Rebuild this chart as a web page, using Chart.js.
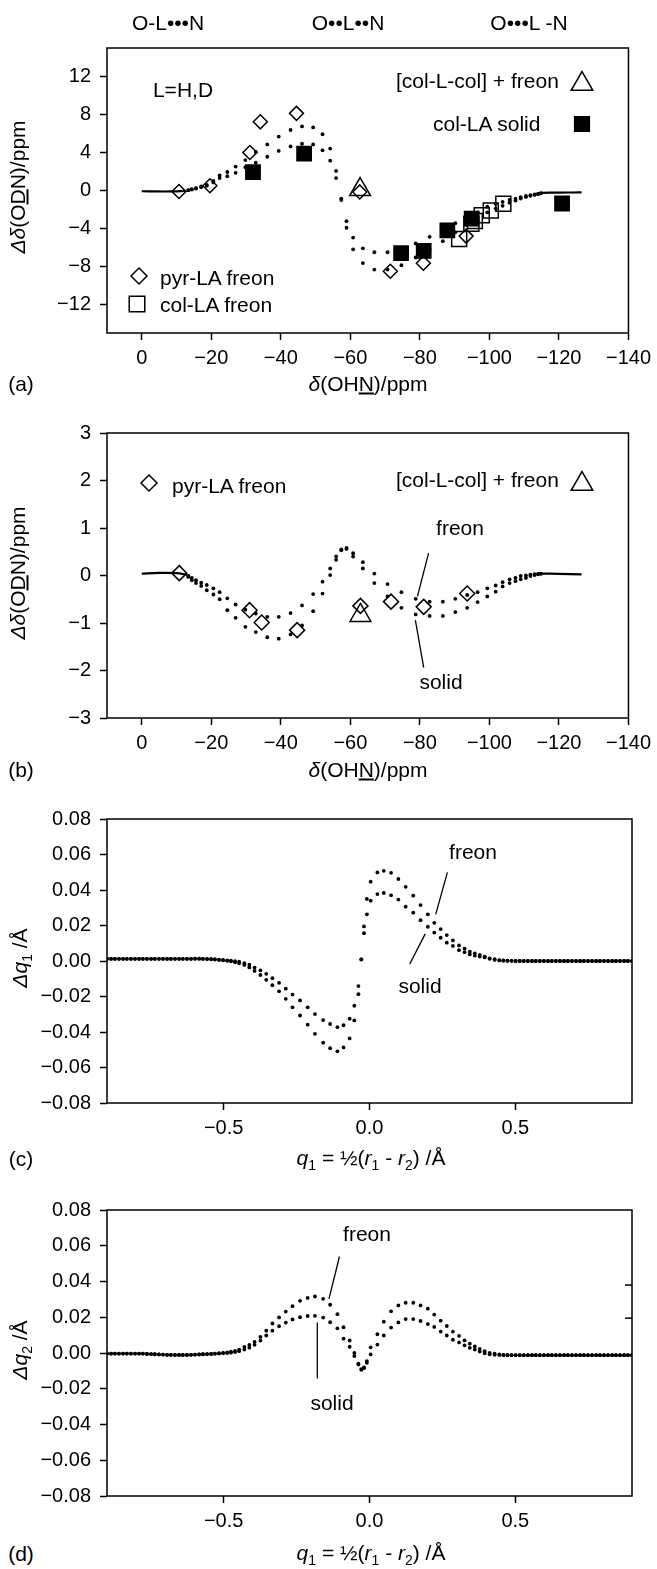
<!DOCTYPE html>
<html>
<head>
<meta charset="utf-8">
<script src="https://cdn.jsdelivr.net/npm/chart.js@4.4.1/dist/chart.umd.min.js"></script>
<style>
  body { margin: 0; background: #fff; width: 657px; height: 1569px; position: relative; overflow: hidden;
         font-family: "Liberation Sans", Arial, Helvetica, sans-serif; color: #000; }
  canvas { position: absolute; left: 0; }
  .t { position: absolute; white-space: nowrap; font-size: 21px; line-height: 1; transform: translate(-50%, -50%); }
  .l { transform: translate(0, -50%); }
  .r { transform: translate(-50%, -50%) rotate(-90deg); }
  .sb { font-size: 14px; position: relative; top: 5px; }
</style>
</head>
<body>
<canvas id="ca" width="657" height="351" style="top:27px"></canvas>
<canvas id="cb" width="657" height="351" style="top:412px"></canvas>
<canvas id="cc" width="657" height="350" style="top:798px"></canvas>
<canvas id="cd" width="657" height="352" style="top:1189px"></canvas>

<div class="t" style="left:168px;top:22px">O-L•••N</div>
<div class="t" style="left:348px;top:22px">O••L••N</div>
<div class="t" style="left:529px;top:22px">O•••L -N</div>

<div class="t" style="left:183px;top:89px">L=H,D</div>
<div class="t l" style="left:396px;top:80px">[col-L-col] + freon</div>
<div class="t l" style="left:433px;top:123px">col-LA solid</div>
<div class="t l" style="left:160px;top:277px">pyr-LA freon</div>
<div class="t l" style="left:160px;top:304px">col-LA freon</div>
<div class="t" style="left:21px;top:383px">(a)</div>
<div class="t" style="left:368px;top:383px"><i>δ</i>(OH<u>N</u>)/ppm</div>
<div class="t r" style="left:17px;top:187px"><i>Δδ</i>(O<u>D</u>N)/ppm</div>

<div class="t l" style="left:172px;top:485px">pyr-LA freon</div>
<div class="t l" style="left:396px;top:479px">[col-L-col] + freon</div>
<div class="t" style="left:460px;top:527px">freon</div>
<div class="t" style="left:441px;top:681px">solid</div>
<div class="t" style="left:21px;top:769px">(b)</div>
<div class="t" style="left:368px;top:769px"><i>δ</i>(OH<u>N</u>)/ppm</div>
<div class="t r" style="left:17px;top:573px"><i>Δδ</i>(O<u>D</u>N)/ppm</div>

<div class="t" style="left:473px;top:851px">freon</div>
<div class="t" style="left:420px;top:985px">solid</div>
<div class="t" style="left:21px;top:1158px">(c)</div>
<div class="t" style="left:371px;top:1157px"><i>q</i><span class="sb">1</span> = ½(<i>r</i><span class="sb">1</span> - <i>r</i><span class="sb">2</span>) /Å</div>
<div class="t r" style="left:19px;top:958px"><i>Δq</i><span class="sb">1</span> /Å</div>

<div class="t" style="left:367px;top:1233px">freon</div>
<div class="t" style="left:332px;top:1402px">solid</div>
<div class="t" style="left:21px;top:1553px">(d)</div>
<div class="t" style="left:371px;top:1552px"><i>q</i><span class="sb">1</span> = ½(<i>r</i><span class="sb">1</span> - <i>r</i><span class="sb">2</span>) /Å</div>
<div class="t r" style="left:19px;top:1350px"><i>Δq</i><span class="sb">2</span> /Å</div>

<script>
// tick labels
const ppmTicks = [0, -20, -40, -60, -80, -100, -120, -140];
const odnTicksA = [-12, -8, -4, 0, 4, 8, 12];
const odnTicksB = [-3, -2, -1, 0, 1, 2, 3];
const qTicks = [-0.5, 0, 0.5];
const dqTicks = [-0.08, -0.06, -0.04, -0.02, 0, 0.02, 0.04, 0.06, 0.08];

// δ(OHN) of the computed points, shared by panels a and b
const ohnShift = [
  -13.4, -14.4, -15.6, -17.1, -18.7, -20.6, -22.4, -24.6, -27.0, -29.8,
  -32.8, -36.1, -39.4, -42.8, -46.1, -49.3, -52.0, -54.2, -55.9, -57.4,
  -58.9, -60.8, -63.6, -66.9, -70.7, -74.7, -78.8, -82.8, -86.6, -90.2,
  -93.6, -96.6, -99.4, -101.8, -103.8, -105.8, -107.5, -109.0, -110.5, -111.8,
  -113.0, -114.0, -114.8];

// panel a
const odnFreonA = [
  0.05, 0.14, 0.25, 0.42, 0.6, 1.0, 1.59, 1.95, 2.52, 3.2,
  4.06, 4.85, 5.68, 6.37, 6.75, 6.64, 5.92, 4.41, 2.06, -1.0,
  -3.92, -6.19, -7.64, -8.32, -8.32, -7.87, -7.05, -6.2, -5.33, -4.4,
  -3.6, -2.9, -2.3, -1.9, -1.61, -1.3, -1.05, -0.85, -0.68, -0.55,
  -0.45, -0.37, -0.3];
const odnSolidA = [
  0.03, 0.10, 0.2, 0.35, 0.5, 0.85, 1.31, 1.5, 1.86, 2.45,
  2.93, 3.55, 4.17, 4.64, 4.92, 4.85, 4.23, 3.14, 1.31, -0.85,
  -3.23, -4.95, -6.09, -6.5, -6.5, -6.4, -5.57, -4.88, -4.1, -3.44,
  -2.8, -2.3, -1.71, -1.4, -1.2, -1.0, -0.86, -0.7, -0.58, -0.5,
  -0.42, -0.35, -0.29];
const tailLeftXA = [0, -4, -8, -12.5];
const tailLeftYA = [-0.08, -0.1, -0.1, -0.04];
const tailRightXA = [-115, -120, -126.5];
const tailRightYA = [-0.25, -0.22, -0.2];

const pyrXA = [-10.7, -19.6, -31.1, -34.1, -44.5, -62.7, -71.5, -81.0, -93.3];
const pyrYA = [-0.1, 0.5, 4.0, 7.23, 8.12, -0.15, -8.5, -7.65, -4.8];
const colFreonX = [-91.3, -94.8, -95.8, -97.8, -100.4, -104.0];
const colFreonY = [-5.1, -3.5, -3.2, -2.6, -2.1, -1.4];
const colSolidX = [-32.0, -46.7, -74.6, -81.1, -87.9, -94.9, -120.9];
const colSolidY = [1.93, 3.88, -6.6, -6.36, -4.19, -2.95, -1.37];
const triXA = [-62.8];
const triYA = [0.1];

// panel b
const odnFreonB = [
  -0.01, -0.05, -0.10, -0.15, -0.20, -0.27, -0.35, -0.48, -0.61, -0.72,
  -0.80, -0.87, -0.87, -0.79, -0.63, -0.39, -0.13, 0.15, 0.40, 0.55,
  0.58, 0.47, 0.28, 0.04, -0.18, -0.35, -0.49, -0.55, -0.55, -0.49,
  -0.41, -0.35, -0.27, -0.21, -0.14, -0.08, -0.05, -0.01, 0.0, 0.02,
  0.03, 0.035, 0.04];
const odnSolidB = [
  -0.03, -0.10, -0.16, -0.22, -0.31, -0.40, -0.50, -0.73, -0.89, -1.08,
  -1.19, -1.30, -1.33, -1.24, -1.05, -0.75, -0.38, 0.01, 0.33, 0.53,
  0.56, 0.40, 0.15, -0.16, -0.44, -0.68, -0.82, -0.85, -0.85, -0.77,
  -0.68, -0.56, -0.44, -0.34, -0.23, -0.16, -0.12, -0.08, -0.05, -0.01,
  0.01, 0.025, 0.035];
const tailLeftXB = [0, -5, -10, -13];
const tailLeftYB = [0.04, 0.055, 0.05, 0.02];
const tailRightXB = [-115, -120, -126.5];
const tailRightYB = [0.04, 0.035, 0.025];

const pyrXB = [-10.8, -31.0, -34.5, -44.7, -62.9, -71.7, -81.1, -93.6];
const pyrYB = [0.05, -0.73, -0.99, -1.15, -0.64, -0.55, -0.66, -0.38];
const triXB = [-62.9];
const triYB = [-0.84];

// panels c and d: q1 grid
const q1 = [
  -0.900, -0.886, -0.873, -0.859, -0.845, -0.832, -0.818, -0.804, -0.790, -0.777,
  -0.763, -0.749, -0.736, -0.722, -0.708, -0.694, -0.681, -0.667, -0.653, -0.640,
  -0.626, -0.612, -0.598, -0.584, -0.571, -0.557, -0.543, -0.530, -0.516, -0.502,
  -0.488, -0.475, -0.461, -0.447, -0.429, -0.412, -0.394, -0.374, -0.354, -0.333,
  -0.310, -0.287, -0.264, -0.238, -0.212, -0.187, -0.159, -0.135, -0.110, -0.089,
  -0.068, -0.052, -0.038, -0.028, -0.019, -0.009, 0.004, 0.027, 0.049, 0.074,
  0.099, 0.124, 0.150, 0.175, 0.200, 0.222, 0.244, 0.265, 0.286, 0.307,
  0.326, 0.344, 0.361, 0.378, 0.395, 0.412, 0.429, 0.445, 0.459, 0.473,
  0.487, 0.501, 0.515, 0.529, 0.543, 0.557, 0.570, 0.584, 0.598, 0.612,
  0.625, 0.639, 0.653, 0.667, 0.680, 0.694, 0.708, 0.722, 0.735, 0.749,
  0.763, 0.777, 0.790, 0.804, 0.818, 0.832, 0.845, 0.859, 0.873, 0.886,
  0.900];

const dq1Freon = [
  0.0012, 0.0012, 0.0012, 0.0012, 0.0012, 0.0012, 0.0012, 0.0012, 0.0012, 0.0012,
  0.0012, 0.0012, 0.0012, 0.0012, 0.0012, 0.0012, 0.0012, 0.0012, 0.0012, 0.0012,
  0.0012, 0.0012, 0.0013, 0.0013, 0.0012, 0.0011, 0.0010, 0.0008, 0.0006, 0.0004,
  0.0001, -0.0002, -0.0007, -0.0013, -0.0022, -0.0036, -0.0056, -0.0079, -0.0106, -0.0136,
  -0.0171, -0.0213, -0.0261, -0.0307, -0.0359, -0.0410, -0.0460, -0.0491, -0.0509, -0.0487,
  -0.0436, -0.0335, -0.0187, 0.0009, 0.0195, 0.0350, 0.0447, 0.0499, 0.0508, 0.0497,
  0.0462, 0.0418, 0.0368, 0.0315, 0.0263, 0.0215, 0.0180, 0.0146, 0.0116, 0.0088,
  0.0070, 0.0052, 0.0043, 0.0034, 0.0025, 0.0015, 0.0010, 0.0005, 0.0003, 0.0002,
  0.0001, 0, 0, 0, 0, 0, 0, 0, 0, 0,
  0, 0, 0, 0, 0, 0, 0, 0, 0, 0,
  0, 0, 0, 0, 0, 0, 0, 0, 0, 0,
  0];
const dq1Solid = [
  0.0012, 0.0012, 0.0012, 0.0012, 0.0012, 0.0012, 0.0012, 0.0012, 0.0012, 0.0012,
  0.0012, 0.0012, 0.0012, 0.0012, 0.0012, 0.0012, 0.0012, 0.0012, 0.0012, 0.0012,
  0.0012, 0.0012, 0.0013, 0.0013, 0.0012, 0.0012, 0.0011, 0.0010, 0.0008, 0.0006,
  0.0004, 0.0002, -0.0001, -0.0004, -0.0012, -0.0021, -0.0037, -0.0053, -0.0072, -0.0097,
  -0.0123, -0.0156, -0.0189, -0.0222, -0.0261, -0.0299, -0.0333, -0.0355, -0.0373, -0.0362,
  -0.0325, -0.0252, -0.0141, 0.0009, 0.0157, 0.0263, 0.0340, 0.0377, 0.0383, 0.0370,
  0.0346, 0.0306, 0.0272, 0.0230, 0.0193, 0.0160, 0.0131, 0.0103, 0.0085, 0.0061,
  0.0050, 0.0037, 0.0030, 0.0025, 0.0020, 0.0012, 0.0006, 0.0003, 0.0002, 0.0001,
  0.0001, 0, 0, 0, 0, 0, 0, 0, 0, 0,
  0, 0, 0, 0, 0, 0, 0, 0, 0, 0,
  0, 0, 0, 0, 0, 0, 0, 0, 0, 0,
  0];

const dq2Freon = [
  -0.0003, -0.0003, -0.0003, -0.0003, -0.0003, -0.0003, -0.0003, -0.0003, -0.0003, -0.0003,
  -0.0005, -0.0006, -0.0007, -0.0008, -0.0009, -0.0010, -0.0010, -0.0011, -0.0011, -0.0011,
  -0.0011, -0.0010, -0.0009, -0.0008, -0.0007, -0.0006, -0.0005, -0.0003, -0.0001, 0.0001,
  0.0003, 0.0007, 0.0012, 0.0019, 0.0034, 0.0045, 0.0062, 0.0090, 0.0125, 0.0165,
  0.0199, 0.0232, 0.0262, 0.0292, 0.0308, 0.0316, 0.0303, 0.0270, 0.0217, 0.0144,
  0.0070, 0.0000, -0.0060, -0.0094, -0.0085, -0.0045, 0.0032, 0.0105, 0.0175, 0.0233,
  0.0266, 0.0281, 0.0281, 0.0266, 0.0248, 0.0215, 0.0181, 0.0151, 0.0120, 0.0096,
  0.0071, 0.0052, 0.0037, 0.0023, 0.0010, 0.0001, -0.0004, -0.0008, -0.0010, -0.0011,
  -0.0012, -0.0012, -0.0012, -0.0012, -0.0012, -0.0012, -0.0012, -0.0012, -0.0012, -0.0012,
  -0.0012, -0.0012, -0.0012, -0.0012, -0.0012, -0.0012, -0.0012, -0.0012, -0.0012, -0.0012,
  -0.0012, -0.0012, -0.0012, -0.0012, -0.0012, -0.0012, -0.0012, -0.0012, -0.0012, -0.0012,
  -0.0012];
const dq2Solid = [
  -0.0003, -0.0003, -0.0003, -0.0003, -0.0003, -0.0003, -0.0003, -0.0003, -0.0003, -0.0003,
  -0.0005, -0.0006, -0.0007, -0.0008, -0.0009, -0.0010, -0.0010, -0.0011, -0.0011, -0.0011,
  -0.0011, -0.0010, -0.0009, -0.0008, -0.0007, -0.0006, -0.0005, -0.0004, -0.0003, -0.0001,
  0.0000, 0.0002, 0.0005, 0.0010, 0.0019, 0.0030, 0.0046, 0.0070, 0.0098, 0.0125,
  0.0150, 0.0170, 0.0188, 0.0200, 0.0207, 0.0208, 0.0198, 0.0172, 0.0138, 0.0080,
  0.0035, -0.0017, -0.0065, -0.0090, -0.0080, -0.0055, -0.0008, 0.0047, 0.0098, 0.0142,
  0.0171, 0.0190, 0.0190, 0.0179, 0.0162, 0.0146, 0.0120, 0.0098, 0.0074, 0.0059,
  0.0043, 0.0029, 0.0019, 0.0008, -0.0002, -0.0007, -0.0010, -0.0011, -0.0012, -0.0012,
  -0.0012, -0.0012, -0.0012, -0.0012, -0.0012, -0.0012, -0.0012, -0.0012, -0.0012, -0.0012,
  -0.0012, -0.0012, -0.0012, -0.0012, -0.0012, -0.0012, -0.0012, -0.0012, -0.0012, -0.0012,
  -0.0012, -0.0012, -0.0012, -0.0012, -0.0012, -0.0012, -0.0012, -0.0012, -0.0012, -0.0012,
  -0.0012];

Chart.defaults.font.family = '"Liberation Sans", Arial, Helvetica, sans-serif';
Chart.defaults.font.size = 20;
Chart.defaults.color = '#000';

const pts = (xs, ys) => xs.map((x, i) => ({x, y: ys[i]}));

function dots(xs, ys) {
  return {data: pts(xs, ys), pointRadius: 1.9, pointBackgroundColor: '#000', pointBorderWidth: 0, showLine: false};
}
function tail(xs, ys) {
  return {data: pts(xs, ys), showLine: true, pointRadius: 0, borderColor: '#000', borderWidth: 2.2, tension: 0.3, fill: false};
}
function marks(xs, ys, style, r, filled) {
  return {data: pts(xs, ys), pointStyle: style, pointRadius: r, pointBorderWidth: 1.5,
    pointBorderColor: '#000', pointBackgroundColor: filled ? '#000' : 'rgba(0,0,0,0)', showLine: false};
}

const minus = s => s.replace('-', '\u2212');
const fmtInt = v => minus(String(v));
const fmt1 = v => minus(v.toFixed(1));
const fmt2 = v => minus(v.toFixed(2));

function axis(min, max, ticks, fmt, isX, reverse) {
  return {
    type: 'linear', position: isX ? 'bottom' : 'left', min, max, reverse: !!reverse,
    afterBuildTicks: s => { s.ticks = ticks.map(v => ({value: v})); },
    afterFit: s => { if (isX) s.height = 45; else s.width = 107; },
    ticks: {callback: fmt, autoSkip: false, maxRotation: 0, padding: isX ? 6 : 9, color: '#000', font: {size: 20}},
    grid: {drawOnChartArea: false, drawTicks: true, tickLength: 7, tickWidth: 1.5, color: '#000'},
    border: {display: false}
  };
}

// annotations per canvas: leader lines (data units), legend keys (page px), extra right ticks
const notes = {
  ca: {keys: [
    {style: 'triangle', x: 582, y: 84, r: 12.5},
    {style: 'rect', x: 582, y: 124, r: 10.4, fill: true},
    {style: 'rectRot', x: 139, y: 276, r: 8},
    {style: 'rect', x: 137, y: 304, r: 11}]},
  cb: {keys: [
    {style: 'triangle', x: 582, y: 484, r: 12.5},
    {style: 'rectRot', x: 149, y: 483, r: 8}],
    leaders: [[-82.5, 0.47, -79.3, -0.44], [-81.1, -1.94, -78.7, -0.94]]},
  cc: {leaders: [[0.267, 0.0499, 0.227, 0.0263], [0.138, -0.0017, 0.191, 0.0153]]},
  cd: {leaders: [[-0.103, 0.054, -0.139, 0.0303], [-0.179, 0.0170, -0.179, -0.0142]],
    rightTicks: [0.038, 0.0195]}
};

function drawKey(ctx, k, top) {
  const x = k.x, y = k.y - top, r = k.r;
  ctx.beginPath();
  if (k.style === 'triangle') {
    const h = r * Math.sin(Math.PI / 3);
    ctx.moveTo(x, y - r);
    ctx.lineTo(x + h, y + r / 2);
    ctx.lineTo(x - h, y + r / 2);
    ctx.closePath();
  } else if (k.style === 'rect') {
    const s = r * Math.SQRT1_2;
    ctx.rect(x - s, y - s, 2 * s, 2 * s);
  } else {
    ctx.moveTo(x - r, y);
    ctx.lineTo(x, y - r);
    ctx.lineTo(x + r, y);
    ctx.lineTo(x, y + r);
    ctx.closePath();
  }
  if (k.fill) { ctx.fillStyle = '#000'; ctx.fill(); }
  ctx.lineWidth = 1.5;
  ctx.strokeStyle = '#000';
  ctx.stroke();
}

const framePlugin = {
  id: 'frame',
  afterDatasetsDraw(chart) {
    const {ctx, chartArea: a, scales: {x, y}} = chart;
    const n = notes[chart.canvas.id] || {};
    ctx.save();
    ctx.strokeStyle = '#000';
    ctx.lineWidth = 1.5;
    ctx.strokeRect(a.left, a.top, a.right - a.left, a.bottom - a.top);
    (n.rightTicks || []).forEach(v => {
      const py = y.getPixelForValue(v);
      ctx.beginPath();
      ctx.moveTo(a.right - 7, py);
      ctx.lineTo(a.right, py);
      ctx.stroke();
    });
    ctx.lineWidth = 1.3;
    (n.leaders || []).forEach(([x1, y1, x2, y2]) => {
      ctx.beginPath();
      ctx.moveTo(x.getPixelForValue(x1), y.getPixelForValue(y1));
      ctx.lineTo(x.getPixelForValue(x2), y.getPixelForValue(y2));
      ctx.stroke();
    });
    (n.keys || []).forEach(k => drawKey(ctx, k, chart.canvas.offsetTop));
    ctx.restore();
  }
};

function makeChart(id, datasets, scales) {
  return new Chart(document.getElementById(id), {
    type: 'scatter',
    data: {datasets},
    options: {
      responsive: false,
      animation: false,
      events: [],
      layout: {padding: {top: 15, right: 25, left: 0, bottom: 0}},
      plugins: {legend: {display: false}, tooltip: {enabled: false}},
      scales
    },
    plugins: [framePlugin]
  });
}

makeChart('ca', [
  marks(colSolidX, colSolidY, 'rect', 10.1, true),
  marks(triXA, triYA, 'triangle', 12, false),
  marks(pyrXA, pyrYA, 'rectRot', 7, false),
  marks(colFreonX, colFreonY, 'rect', 10.6, false),
  dots(ohnShift, odnFreonA),
  dots(ohnShift, odnSolidA),
  tail(tailLeftXA, tailLeftYA),
  tail(tailRightXA, tailRightYA)
], {
  x: axis(-140, 10, ppmTicks, fmtInt, true, true),
  y: axis(-15, 15, odnTicksA, fmtInt, false)
});

makeChart('cb', [
  marks(triXB, triYB, 'triangle', 12, false),
  marks(pyrXB, pyrYB, 'rectRot', 7.5, false),
  dots(ohnShift, odnFreonB),
  dots(ohnShift, odnSolidB),
  tail(tailLeftXB, tailLeftYB),
  tail(tailRightXB, tailRightYB)
], {
  x: axis(-140, 10, ppmTicks, fmtInt, true, true),
  y: axis(-3, 3, odnTicksB, fmtInt, false)
});

makeChart('cc', [
  dots(q1, dq1Freon),
  dots(q1, dq1Solid)
], {
  x: axis(-0.9, 0.9, qTicks, fmt1, true),
  y: axis(-0.08, 0.08, dqTicks, fmt2, false)
});

makeChart('cd', [
  dots(q1, dq2Freon),
  dots(q1, dq2Solid)
], {
  x: axis(-0.9, 0.9, qTicks, fmt1, true),
  y: axis(-0.08, 0.08, dqTicks, fmt2, false)
});
</script>
</body>
</html>
